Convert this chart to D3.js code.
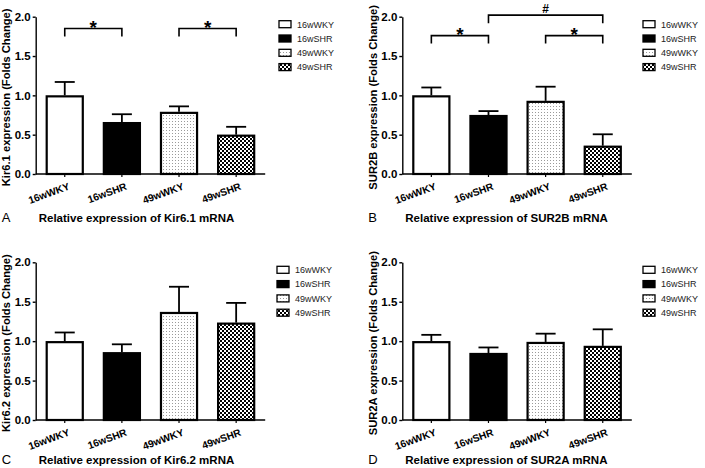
<!DOCTYPE html>
<html><head><meta charset="utf-8">
<script src="https://cdn.jsdelivr.net/npm/d3@7"></script>
<style>
html,body{margin:0;padding:0;background:#fff;}
svg{display:block;font-family:"Liberation Sans",Arial,sans-serif;}
</style></head>
<body>
<svg id="chart" width="705" height="468"></svg>
<script>
// ---------- data ----------
const groups = ["16wWKY", "16wSHR", "49wWKY", "49wSHR"];
const yTicks = [0, 0.5, 1.0, 1.5, 2.0];

const kir61Mean = [1.00, 0.66, 0.79, 0.50];
const kir61Err  = [0.17, 0.10, 0.07, 0.10];

const sur2bMean = [1.00, 0.75, 0.93, 0.36];
const sur2bErr  = [0.10, 0.05, 0.18, 0.145];

const kir62Mean = [1.00, 0.86, 1.37, 1.235];
const kir62Err  = [0.11, 0.10, 0.32, 0.25];

const sur2aMean = [1.00, 0.85, 0.99, 0.94];
const sur2aErr  = [0.08, 0.07, 0.105, 0.21];

// significance annotations (level in y-units)
const kir61Sig = [
  {from: "16wWKY", to: "16wSHR", label: "*", level: 1.85},
  {from: "49wWKY", to: "49wSHR", label: "*", level: 1.85}
];
const sur2bSig = [
  {from: "16wWKY", to: "16wSHR", label: "*", level: 1.76},
  {from: "49wWKY", to: "49wSHR", label: "*", level: 1.76},
  {from: "16wSHR", to: "49wSHR", label: "#", level: 2.02}
];

const panels = [
  {letter: "A", yTitle: "Kir6.1 expression (Folds Change)", xTitle: "Relative expression of Kir6.1 mRNA",
   mean: kir61Mean, err: kir61Err, sig: kir61Sig, ax: 35.7, top: 16.7, bottom: 174, legX: 279, titleY: 222},
  {letter: "B", yTitle: "SUR2B expression (Folds Change)", xTitle: "Relative expression of SUR2B mRNA",
   mean: sur2bMean, err: sur2bErr, sig: sur2bSig, ax: 402.3, top: 16.7, bottom: 174, legX: 643, titleY: 222},
  {letter: "C", yTitle: "Kir6.2 expression (Folds Change)", xTitle: "Relative expression of Kir6.2 mRNA",
   mean: kir62Mean, err: kir62Err, sig: [], ax: 35.7, top: 262.3, bottom: 420, legX: 277, titleY: 464},
  {letter: "D", yTitle: "SUR2A expression (Folds Change)", xTitle: "Relative expression of SUR2A mRNA",
   mean: sur2aMean, err: sur2aErr, sig: [], ax: 402.3, top: 262.3, bottom: 420, legX: 643, titleY: 464}
];

// ---------- patterns ----------
const svg = d3.select("#chart");
const defs = svg.append("defs");
const dots = defs.append("pattern").attr("id", "dots").attr("patternUnits", "userSpaceOnUse")
  .attr("width", 3).attr("height", 3);
dots.append("rect").attr("width", 3).attr("height", 3).attr("fill", "#fff");
dots.append("rect").attr("x", 1).attr("y", 1).attr("width", 1).attr("height", 1).attr("fill", "#9a9a9a");

const checker = defs.append("pattern").attr("id", "checker").attr("patternUnits", "userSpaceOnUse")
  .attr("width", 4).attr("height", 4);
checker.append("rect").attr("width", 4).attr("height", 4).attr("fill", "#fff");
checker.append("rect").attr("x", 0).attr("y", 0).attr("width", 2).attr("height", 2).attr("fill", "#000");
checker.append("rect").attr("x", 2).attr("y", 2).attr("width", 2).attr("height", 2).attr("fill", "#000");

const fillFor = d3.scaleOrdinal().domain(groups)
  .range(["#ffffff", "#000000", "url(#dots)", "url(#checker)"]);

// ---------- panels ----------
panels.forEach(p => {
  const g = svg.append("g");
  const x = d3.scaleBand().domain(groups).range([p.ax, p.ax + 229.5])
    .paddingInner(1 / 3).paddingOuter(0.175);
  const y = d3.scaleLinear().domain([0, 2]).range([p.bottom, p.top]);
  const data = groups.map((k, i) => ({k, m: p.mean[i], e: p.err[i]}));

  // error bars (upper only)
  const capHalf = 10;
  g.selectAll(".eb").data(data).join("line")
    .attr("x1", d => x(d.k) + x.bandwidth() / 2).attr("x2", d => x(d.k) + x.bandwidth() / 2)
    .attr("y1", d => y(d.m)).attr("y2", d => y(d.m + d.e))
    .attr("stroke", "#000").attr("stroke-width", 1.8);
  g.selectAll(".cap").data(data).join("line")
    .attr("x1", d => x(d.k) + x.bandwidth() / 2 - capHalf).attr("x2", d => x(d.k) + x.bandwidth() / 2 + capHalf)
    .attr("y1", d => y(d.m + d.e)).attr("y2", d => y(d.m + d.e))
    .attr("stroke", "#000").attr("stroke-width", 1.8);

  // bars
  g.selectAll(".bar").data(data).join("rect")
    .attr("x", d => x(d.k) + 1).attr("width", x.bandwidth() - 2)
    .attr("y", d => y(d.m) + 1).attr("height", d => y(0) - y(d.m) - 1)
    .attr("fill", d => fillFor(d.k)).attr("stroke", "#000").attr("stroke-width", 2.2);

  // y axis
  const ya = g.append("g").attr("transform", `translate(${p.ax},0)`)
    .call(d3.axisLeft(y).tickValues(yTicks).tickFormat(d3.format(".1f")).tickSize(3).tickPadding(2).tickSizeOuter(0));
  ya.select(".domain").attr("stroke-width", 1.4);
  ya.selectAll(".tick line").attr("stroke-width", 1.4);
  ya.selectAll("text").attr("font-size", 11.5).attr("font-weight", "bold").attr("fill", "#000")
    .attr("font-family", "Liberation Sans, Arial, sans-serif");

  // x axis
  const xa = g.append("g").attr("transform", `translate(0,${p.bottom})`)
    .call(d3.axisBottom(x).tickSize(3).tickSizeOuter(0).tickFormat(""));
  xa.select(".domain").attr("stroke-width", 1.4).attr("d", `M${p.ax},0H${p.ax + 229.5}`);
  xa.selectAll(".tick line").attr("stroke-width", 1.2);
  xa.selectAll(".tick").append("text")
    .attr("transform", "translate(3,8) rotate(-20)")
    .attr("text-anchor", "end").attr("dy", "0.75em")
    .attr("font-size", 10.2).attr("font-weight", "bold").attr("fill", "#000")
    .attr("font-family", "Liberation Sans, Arial, sans-serif")
    .text(d => d);

  // axis titles
  g.append("text")
    .attr("transform", `translate(${p.ax - 25.5},${(p.top + p.bottom) / 2 + 2}) rotate(-90)`)
    .attr("text-anchor", "middle").attr("font-size", 11.2).attr("font-weight", "bold")
    .text(p.yTitle);
  g.append("text").attr("x", p.ax + 3).attr("y", p.titleY)
    .attr("font-size", 11.5).attr("font-weight", "bold").text(p.xTitle);
  g.append("text").attr("x", p.ax - 34).attr("y", p.titleY)
    .attr("font-size", 13).text(p.letter);

  // significance brackets
  p.sig.forEach(s => {
    const x1 = x(s.from) + x.bandwidth() / 2, x2 = x(s.to) + x.bandwidth() / 2;
    const yl = y(s.level);
    g.append("path").attr("d", `M${x1},${yl + 8}V${yl}H${x2}V${yl + 8}`)
      .attr("fill", "none").attr("stroke", "#000").attr("stroke-width", 1.6);
    g.append("text").attr("x", (x1 + x2) / 2).attr("y", s.label === "*" ? yl + 5.5 : yl - 2.5)
      .attr("text-anchor", "middle").attr("font-weight", "bold")
      .attr("font-size", s.label === "*" ? 19 : 12).text(s.label);
  });

  // legend
  const lg = g.append("g");
  groups.forEach((k, i) => {
    const cy = p.top + 7.5 + i * 14.3;
    lg.append("rect").attr("x", p.legX).attr("y", cy - 3.5).attr("width", 12).attr("height", 7)
      .attr("fill", fillFor(k)).attr("stroke", "#000").attr("stroke-width", 1.3);
    lg.append("text").attr("x", p.legX + 18).attr("y", cy + 3.3)
      .attr("font-size", 9).attr("fill", "#222").text(k);
  });
});
</script>
</body></html>
